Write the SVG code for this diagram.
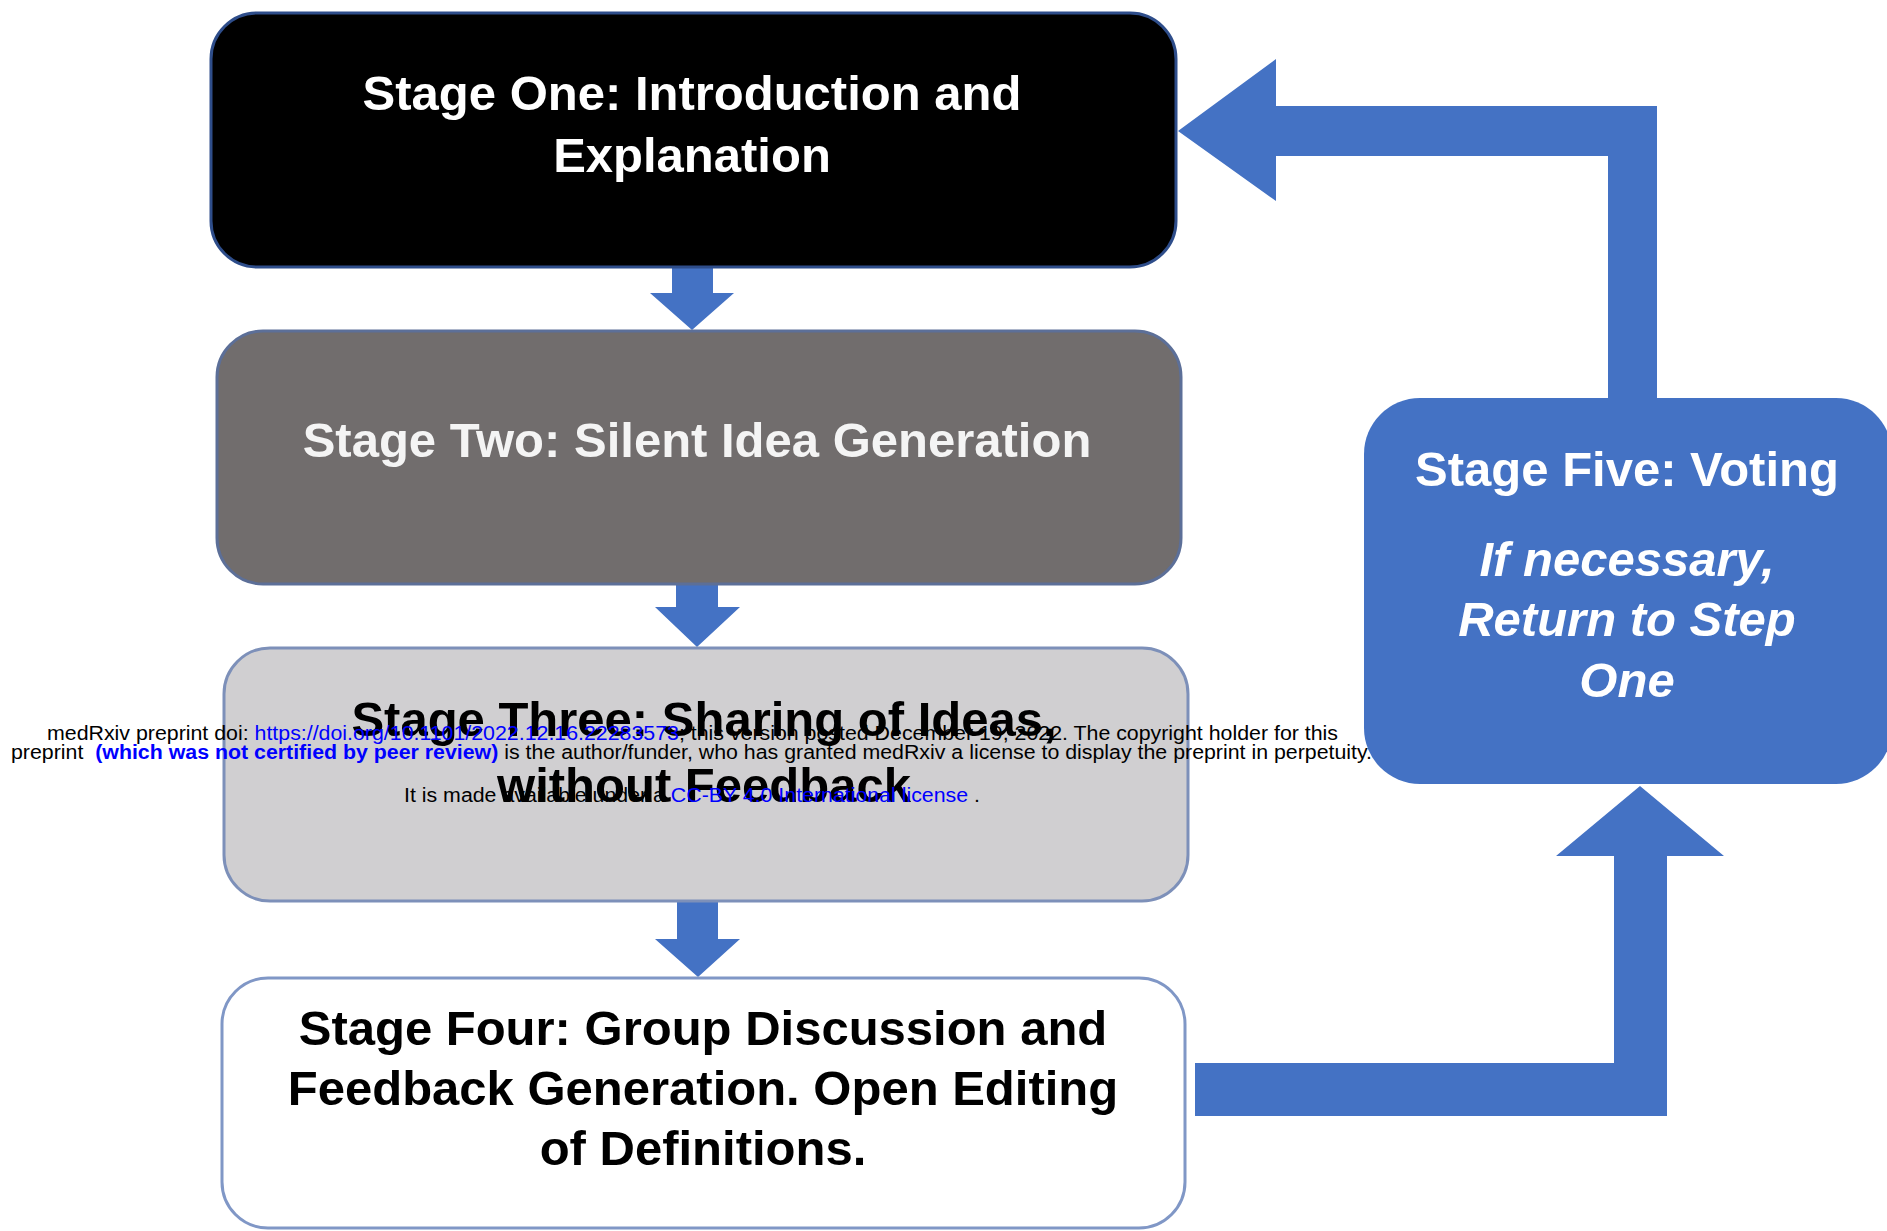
<svg xmlns="http://www.w3.org/2000/svg" width="1887" height="1231" viewBox="0 0 1887 1231">
<style>
.box{stroke-width:3}
.t{font-family:"Liberation Sans",Arial,Helvetica,sans-serif;font-weight:bold;font-size:49px;text-anchor:middle}
.w{fill:#ffffff}
.k{fill:#000000}
.i{font-style:italic}
.arrow{fill:#4472c4}
.wm{font-family:"Liberation Sans",Arial,Helvetica,sans-serif;font-size:20px;fill:#000000}
.lnk{fill:#0000ff}
.b{font-weight:bold}
</style>
<rect width="1887" height="1231" fill="#ffffff"/>
<g id="connectors">
  <polygon class="arrow" points="672,266 713,266 713,293 734,293 692,330 650,293 672,293"/>
  <polygon class="arrow" points="676,583 718,583 718,607 740,607 697,647 655,607 676,607"/>
  <polygon class="arrow" points="677,901 718,901 718,939 740,939 698,977 655,939 677,939"/>
  <polygon class="arrow" points="1608,400 1608,156 1276,156 1276,201 1178,131 1276,59 1276,106 1657,106 1657,400"/>
  <polygon class="arrow" points="1195,1063 1614,1063 1614,856 1556,856 1640,786 1724,856 1667,856 1667,1116 1195,1116"/>
</g>
<g id="stage1">
  <rect class="box" x="211" y="13" width="965" height="254" rx="46" fill="#000000" stroke="#2e4d8a"/>
  <text class="t w" x="692" y="110">Stage One: Introduction and</text>
  <text class="t w" x="692" y="172">Explanation</text>
</g>
<g id="stage2">
  <rect class="box" x="217" y="331" width="964" height="253" rx="46" fill="#716d6d" stroke="#5c6f98"/>
  <text class="t" x="697" y="457" fill="#f4f4f4">Stage Two: Silent Idea Generation</text>
</g>
<g id="stage3">
  <rect class="box" x="224" y="648" width="964" height="253" rx="46" fill="#d0cfd1" stroke="#7d90b9"/>
  <text class="t k" x="704" y="736">Stage Three: Sharing of Ideas,</text>
  <text class="t k" x="704" y="802">without Feedback</text>
</g>
<g id="stage4">
  <rect class="box" x="222" y="978" width="963" height="250" rx="46" fill="#ffffff" stroke="#8097c6"/>
  <text class="t k" x="703" y="1045">Stage Four: Group Discussion and</text>
  <text class="t k" x="703" y="1105">Feedback Generation. Open Editing</text>
  <text class="t k" x="703" y="1165">of Definitions.</text>
</g>
<g id="stage5">
  <rect x="1364" y="398" width="528" height="386" rx="56" fill="#4472c4"/>
  <text class="t w" x="1627" y="486">Stage Five: Voting</text>
  <text class="t w i" x="1627" y="576">If necessary,</text>
  <text class="t w i" x="1627" y="636">Return to Step</text>
  <text class="t w i" x="1627" y="697">One</text>
</g>
<g id="watermark">
  <text class="wm" x="47" y="740" textLength="1291" lengthAdjust="spacingAndGlyphs">medRxiv preprint doi: <tspan class="lnk">https://doi.org/10.1101/2022.12.16.22283573</tspan>; this version posted December 19, 2022. The copyright holder for this</text>
  <text class="wm" x="11" y="759" textLength="1361" lengthAdjust="spacingAndGlyphs" xml:space="preserve">preprint  <tspan class="lnk b">(which was not certified by peer review)</tspan> is the author/funder, who has granted medRxiv a license to display the preprint in perpetuity.</text>
  <text class="wm" x="404" y="802" textLength="576" lengthAdjust="spacingAndGlyphs">It is made available under a <tspan class="lnk">CC-BY 4.0 International license</tspan> .</text>
</g>
</svg>
